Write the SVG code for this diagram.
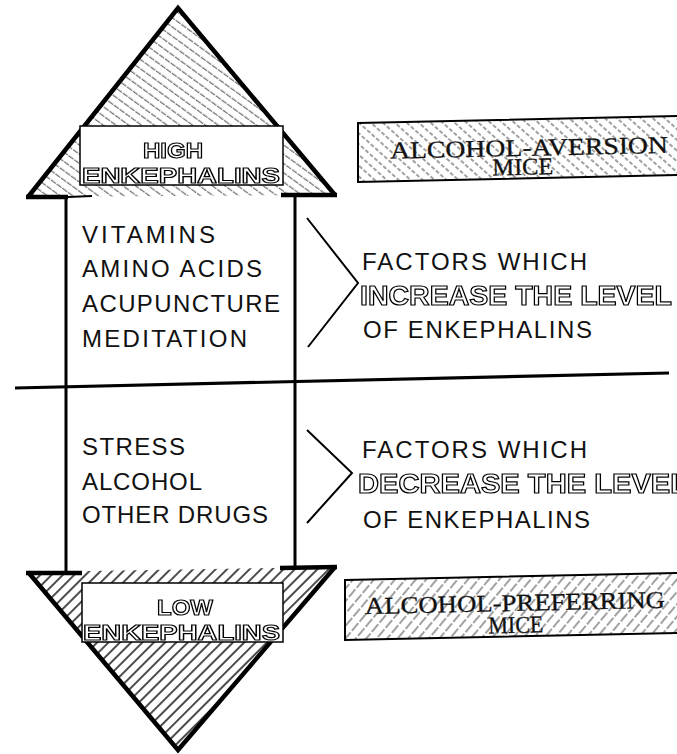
<svg xmlns="http://www.w3.org/2000/svg" width="677" height="754" viewBox="0 0 677 754">
<style>
.t{font-family:"Liberation Sans",Arial,sans-serif;font-size:24px;fill:#111;}
.o{font-family:"Liberation Sans",Arial,sans-serif;font-weight:bold;fill:#fff;stroke:#000;stroke-width:1.2;filter:url(#gray);}
.m{font-family:"Liberation Serif","Times New Roman",serif;font-size:24px;fill:#111;stroke:#111;stroke-width:0.3;}
.edge{fill:none;stroke:#000;stroke-width:4.5;stroke-linejoin:miter;}
.shaft{fill:none;stroke:#000;stroke-width:3;}
.thin{fill:none;stroke:#000;stroke-width:2;}
.lbl{fill:#fff;stroke:#000;stroke-width:1.5;}
</style>
<defs>
<filter id="gray" x="-5%" y="-20%" width="110%" height="140%">
<feColorMatrix type="saturate" values="0"/>
</filter>
<pattern id="hUp" patternUnits="userSpaceOnUse" width="14" height="7.5" patternTransform="rotate(36)">
<line x1="0" y1="3" x2="14" y2="3" stroke="#444" stroke-width="1" stroke-dasharray="6 1"/>
</pattern>
<pattern id="hDown" patternUnits="userSpaceOnUse" width="12" height="8" patternTransform="rotate(-45)">
<line x1="0" y1="3" x2="12" y2="3" stroke="#000" stroke-width="1.4"/>
</pattern>
<pattern id="hAv" patternUnits="userSpaceOnUse" width="12" height="8" patternTransform="rotate(42)">
<line x1="0" y1="3" x2="12" y2="3" stroke="#444" stroke-width="1" stroke-dasharray="4 2"/>
</pattern>
<pattern id="hPr" patternUnits="userSpaceOnUse" width="12" height="8" patternTransform="rotate(-50)">
<line x1="0" y1="3" x2="12" y2="3" stroke="#444" stroke-width="1" stroke-dasharray="5 2"/>
</pattern>
</defs>

<g id="top-arrow">
<polygon points="28,197 178,8 335,195" fill="url(#hUp)"/>
<polyline class="edge" points="28,197 178,8 335,195"/>
<line class="edge" x1="26" y1="197" x2="68" y2="197"/>
<line class="thin" x1="68" y1="197" x2="92" y2="196"/>
<line class="edge" x1="281" y1="195" x2="337" y2="195"/>
<rect class="lbl" x="80" y="126" width="203" height="59"/>
<text class="o" x="143" y="158" font-size="22" textLength="60" lengthAdjust="spacingAndGlyphs">HIGH</text>
<text class="o" x="82" y="183" font-size="22" textLength="198" lengthAdjust="spacingAndGlyphs">ENKEPHALINS</text>
</g>

<g id="shaft">
<line class="shaft" x1="66" y1="197" x2="66" y2="573"/>
<line class="shaft" x1="295" y1="195" x2="295" y2="570"/>
</g>

<g id="increase-list">
<text class="t" x="82" y="243" textLength="133" lengthAdjust="spacing">VITAMINS</text>
<text class="t" x="82" y="277" textLength="180" lengthAdjust="spacing">AMINO ACIDS</text>
<text class="t" x="82" y="312" textLength="198" lengthAdjust="spacing">ACUPUNCTURE</text>
<text class="t" x="82" y="347" textLength="165" lengthAdjust="spacing">MEDITATION</text>
</g>

<g id="increase-label">
<text class="t" x="362" y="270" textLength="225" lengthAdjust="spacing">FACTORS WHICH</text>
<text class="o" x="360" y="305" font-size="27" textLength="312" lengthAdjust="spacingAndGlyphs">INCREASE THE LEVEL</text>
<text class="t" x="363" y="338" textLength="229" lengthAdjust="spacing">OF ENKEPHALINS</text>
</g>

<g id="decrease-list">
<text class="t" x="82" y="455" textLength="103" lengthAdjust="spacing">STRESS</text>
<text class="t" x="82" y="490" textLength="120" lengthAdjust="spacing">ALCOHOL</text>
<text class="t" x="82" y="523" textLength="186" lengthAdjust="spacing">OTHER DRUGS</text>
</g>

<g id="decrease-label">
<text class="t" x="362" y="458" textLength="225" lengthAdjust="spacing">FACTORS WHICH</text>
<text class="o" x="358" y="493" font-size="27" textLength="330" lengthAdjust="spacingAndGlyphs">DECREASE THE LEVEL</text>
<text class="t" x="363" y="528" textLength="227" lengthAdjust="spacing">OF ENKEPHALINS</text>
</g>

<g id="bottom-arrow">
<polygon points="28,572 335,567 178,752" fill="url(#hDown)"/>
<polyline class="edge" points="28,572 178,750 335,567"/>
<line class="edge" x1="26" y1="573" x2="82" y2="573"/>
<line class="edge" x1="280" y1="568" x2="337" y2="567"/>
<rect class="lbl" x="82" y="583" width="201" height="59"/>
<text class="o" x="157" y="615" font-size="22" textLength="56" lengthAdjust="spacingAndGlyphs">LOW</text>
<text class="o" x="83" y="640" font-size="22" textLength="197" lengthAdjust="spacingAndGlyphs">ENKEPHALINS</text>
</g>

<g id="aversion-mice">
<polygon points="358,123 679,116 679,175 358,182" fill="url(#hAv)" stroke="#000" stroke-width="2"/>
<g transform="rotate(-1.2 515 150)">
<text class="m" x="390" y="156" textLength="278" lengthAdjust="spacingAndGlyphs">ALCOHOL-AVERSION</text>
<text class="m" x="492" y="175" textLength="61" lengthAdjust="spacingAndGlyphs">MICE</text>
</g>
</g>

<g id="preferring-mice">
<polygon points="345,580 679,573 679,633 345,640" fill="url(#hPr)" stroke="#000" stroke-width="2"/>
<g transform="rotate(-1.2 510 607)">
<text class="m" x="365" y="611" textLength="300" lengthAdjust="spacingAndGlyphs">ALCOHOL-PREFERRING</text>
<text class="m" x="488" y="633" textLength="55" lengthAdjust="spacingAndGlyphs">MICE</text>
</g>
</g>

<g id="connectors">
<line x1="15" y1="388" x2="669" y2="373" stroke="#000" stroke-width="3.2"/>
<polyline class="thin" points="307,218 358,283 308,347"/>
<polyline class="thin" points="307,430 352,473 307,523"/>
</g>
</svg>
